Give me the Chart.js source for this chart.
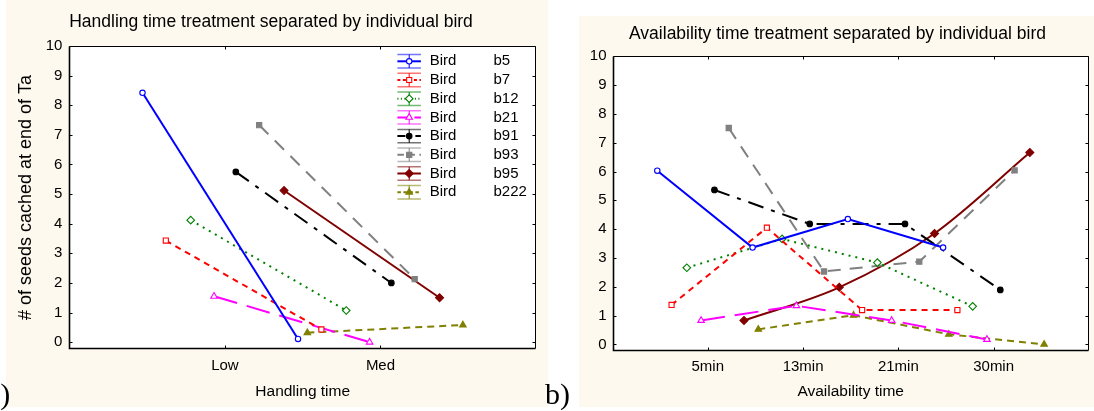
<!DOCTYPE html>
<html><head><meta charset="utf-8">
<script src="https://cdn.jsdelivr.net/npm/chart.js@4/dist/chart.umd.min.js"></script>
<style>
html,body{margin:0;padding:0;background:#fff;width:1094px;height:411px;overflow:hidden;font-family:"Liberation Sans",Arial,sans-serif}
.bg{position:absolute;background:#fdf9ee}
canvas{position:absolute;top:0}
.lab{position:absolute;font-family:"Liberation Serif","Times New Roman",serif;font-size:30px;line-height:30px;color:#000;white-space:nowrap}
</style></head><body>
<div class="bg" style="left:6px;top:0;width:542px;height:407px"></div>
<div class="bg" style="left:579px;top:16px;width:515px;height:391px"></div>
<canvas id="c1" width="548" height="411" style="left:0"></canvas>
<canvas id="c2" width="544" height="411" style="left:550px"></canvas>
<div class="lab" style="left:-13px;top:379px">a)</div>
<div class="lab" style="left:545px;top:379px">b)</div>
<script>
// ---------- data ----------
const birds = ['b5', 'b7', 'b12', 'b21', 'b91', 'b93', 'b95', 'b222'];
const handlingCategories = ['Low', 'Med'];
const availabilityCategories = ['5min', '13min', '21min', '30min'];
const yTickValues = [0, 1, 2, 3, 4, 5, 6, 7, 8, 9, 10];
// horizontal jitter of each bird around its category (category units)
const birdOffsets = [-0.53, -0.38, -0.22, -0.07, 0.07, 0.22, 0.38, 0.53];

// Handling time treatment (Low, Med)
const handlingB5 = [8.42, 0.11];
const handlingB7 = [3.43, 0.43];
const handlingB12 = [4.12, 1.07];
const handlingB21 = [1.55, 0.0];
const handlingB91 = [5.75, 2.0];
const handlingB93 = [7.33, 2.13];
const handlingB95 = [5.12, 1.5];
const handlingB222 = [0.32, 0.58];

// Availability time treatment (5, 13, 21, 30 min)
const availB5 = [6.03, 3.36, 4.35, 3.36];
const availB7 = [1.37, 4.05, 1.19, 1.19];
const availB12 = [2.66, 3.66, 2.84, 1.32];
const availB21 = [0.83, 1.34, 0.83, 0.17];
const availB91 = [5.36, 4.18, 4.18, 1.89];
const availB93 = [7.51, 2.53, 2.87, 6.04];
const availB95 = [0.83, 1.98, 3.85, 6.66];
const availB222 = [0.52, 1.01, 0.35, 0.0];

const handlingValues = [handlingB5, handlingB7, handlingB12, handlingB21, handlingB91, handlingB93, handlingB95, handlingB222];
const availValues = [availB5, availB7, availB12, availB21, availB91, availB93, availB95, availB222];

// ---------- styles ----------
const styles = [
  {color: '#0000ff', dash: [], point: 'circle', fill: '#ffffff', r: 2.7},
  {color: '#ff0000', dash: [6, 5], point: 'rect', fill: '#ffffff', r: 3.6},
  {color: '#008000', dash: [2, 5], point: 'rectRot', fill: '#ffffff', r: 3.8},
  {color: '#ff00ff', dash: [24, 10], point: 'triangle', fill: '#ffffff', r: 3.8},
  {color: '#000000', dash: [16, 8, 4, 8], point: 'circle', fill: '#000000', r: 2.8},
  {color: '#808080', dash: [13, 9], point: 'rect', fill: '#808080', r: 3.7},
  {color: '#800000', dash: [], point: 'rectRot', fill: '#800000', r: 4},
  {color: '#808000', dash: [7, 5], point: 'triangle', fill: '#808000', r: 3.8}
];
const FONT = '"Liberation Sans", Arial, sans-serif';
Chart.defaults.font.family = FONT;
Chart.defaults.color = '#000';

function makeDatasets(valuesList, smoothBird) {
  return birds.map((b, i) => ({
    label: 'Bird ' + b,
    data: valuesList[i].map((v, j) => ({x: j + 1 + birdOffsets[i], y: v})),
    borderColor: styles[i].color,
    backgroundColor: styles[i].fill,
    borderWidth: 2,
    borderDash: styles[i].dash,
    borderCapStyle: 'butt',
    pointStyle: styles[i].point,
    pointRadius: styles[i].r,
    pointBorderWidth: 1.1,
    pointBorderColor: styles[i].color,
    pointBackgroundColor: styles[i].fill,
    cubicInterpolationMode: b === smoothBird ? 'monotone' : 'default',
    tension: 0,
    fill: false,
    clip: false
  }));
}

const areaPlugin = {
  id: 'area',
  beforeDraw(chart) {
    const {ctx, chartArea: a} = chart;
    ctx.save(); ctx.fillStyle = '#ffffff';
    ctx.fillRect(a.left, a.top, a.right - a.left, a.bottom - a.top);
    ctx.restore();
  },
  afterDraw(chart) {
    const {ctx, chartArea: a, scales: {x, y}} = chart;
    const L = Math.round(a.left) + 0.5, R = Math.round(a.right) - 0.5;
    const T = Math.round(a.top) + 0.5, B = Math.round(a.bottom) - 0.5;
    ctx.save();
    ctx.strokeStyle = '#000'; ctx.lineWidth = 1;
    ctx.beginPath();
    ctx.moveTo(L, T); ctx.lineTo(R, T); ctx.lineTo(R, B);
    y.ticks.forEach(t => { const p = Math.round(y.getPixelForValue(t.value)) + 0.5; ctx.moveTo(L, p); ctx.lineTo(L + 3, p); ctx.moveTo(R, p); ctx.lineTo(R - 3, p); });
    x.ticks.forEach(t => { const p = Math.round(x.getPixelForValue(t.value)) + 0.5; ctx.moveTo(p, T); ctx.lineTo(p, T + 3); ctx.moveTo(p, B); ctx.lineTo(p, B - 3); });
    ctx.stroke();
    ctx.lineWidth = 1.6;
    ctx.beginPath();
    ctx.moveTo(L, T); ctx.lineTo(L, B); ctx.lineTo(R, B);
    ctx.stroke();
    ctx.restore();
  }
};

const legendPlugin = {
  id: 'birdLegend',
  afterDraw(chart) {
    const ctx = chart.ctx;
    const x0 = 397.4, x1 = 420.9, xm = 409.2, y0 = 61.3, dy = 18.7, h = 6.7;
    chart.data.datasets.forEach((ds, i) => {
      const cy = y0 + i * dy;
      const st = styles[i];
      ctx.save();
      ctx.strokeStyle = st.color;
      ctx.globalAlpha = 0.55; ctx.lineWidth = 1.5;
      ctx.beginPath();
      ctx.moveTo(x0, cy - h); ctx.lineTo(x1, cy - h);
      ctx.moveTo(x0, cy + h); ctx.lineTo(x1, cy + h);
      ctx.stroke();
      ctx.globalAlpha = 1; ctx.lineWidth = 1;
      ctx.beginPath(); ctx.moveTo(xm, cy - h); ctx.lineTo(xm, cy + h); ctx.stroke();
      ctx.lineWidth = 2; ctx.setLineDash(st.dash.map(d => d * 0.5));
      ctx.beginPath(); ctx.moveTo(x0, cy); ctx.lineTo(x1, cy); ctx.stroke();
      ctx.setLineDash([]);
      ctx.fillStyle = st.fill; ctx.lineWidth = 1.1;
      Chart.helpers.drawPoint(ctx, {pointStyle: st.point, rotation: 0, radius: st.r, borderWidth: 1.1}, xm, cy);
      ctx.fillStyle = '#000';
      ctx.font = '15px ' + FONT;
      ctx.textBaseline = 'middle'; ctx.textAlign = 'left';
      ctx.fillText('Bird', 429.7, cy);
      ctx.fillText(birds[i], 493.5, cy);
      ctx.restore();
    });
  }
};

function makeOptions(cfg) {
  return {
    responsive: false,
    animation: false,
    devicePixelRatio: 1,
    layout: {padding: cfg.pad},
    plugins: {
      legend: {display: false},
      tooltip: {enabled: false},
      title: {display: true, text: cfg.title, color: '#000', font: {size: 17.5, weight: 'normal', family: FONT}, padding: cfg.titlePad}
    },
    scales: {
      x: {
        type: 'linear', min: cfg.xMin, max: cfg.xMax,
        afterBuildTicks: s => { s.ticks = cfg.categories.map((c, i) => ({value: i + 1})); },
        ticks: {callback: v => cfg.categories[Math.round(v) - 1], padding: cfg.xTickPad, color: '#000', font: {size: 15}, maxRotation: 0, autoSkip: false},
        grid: {display: false, drawTicks: false},
        border: {display: false},
        title: {display: true, text: cfg.xTitle, color: '#000', font: {size: 15.5}, padding: {top: 0, bottom: 10.4}},
        afterFit: s => { s.height = cfg.xHeight; }
      },
      y: {
        type: 'linear', min: cfg.yMin, max: 10,
        afterBuildTicks: s => { s.ticks = yTickValues.map(v => ({value: v})); },
        ticks: {padding: cfg.yTickPad, color: '#000', font: {size: 15}},
        grid: {display: false, drawTicks: false},
        border: {display: false},
        title: cfg.yTitle ? {display: true, text: cfg.yTitle, color: '#000', font: {size: 18}, padding: {top: cfg.yTitlePad}} : {display: false},
        afterFit: s => { s.width = cfg.yWidth; }
      }
    }
  };
}

new Chart(document.getElementById('c1'), {
  type: 'line',
  data: {datasets: makeDatasets(handlingValues, null)},
  options: makeOptions({
    pad: {left: 6, right: 12, top: 0, bottom: 0},
    title: 'Handling time treatment separated by individual bird',
    titlePad: {top: 12, bottom: 13},
    xMin: 0, xMax: 3, categories: handlingCategories, xTickPad: 7.5, xTitle: 'Handling time', xHeight: 62,
    yMin: -0.23, yTickPad: 7, yTitle: '# of seeds cached at end of Ta', yTitlePad: 9.2, yWidth: 63.4
  }),
  plugins: [areaPlugin, legendPlugin]
});

new Chart(document.getElementById('c2'), {
  type: 'line',
  data: {datasets: makeDatasets(availValues, 'b95')},
  options: makeOptions({
    pad: {left: 32, right: 1, top: 0, bottom: 0},
    title: 'Availability time treatment separated by individual bird',
    titlePad: {top: 23.2, bottom: 12.1},
    xMin: 0, xMax: 5, categories: availabilityCategories, xTickPad: 7.3, xTitle: 'Availability time', xHeight: 60.3,
    yMin: -0.22, yTickPad: 6, yTitle: null, yWidth: 30.5
  }),
  plugins: [areaPlugin]
});
</script>
</body></html>
